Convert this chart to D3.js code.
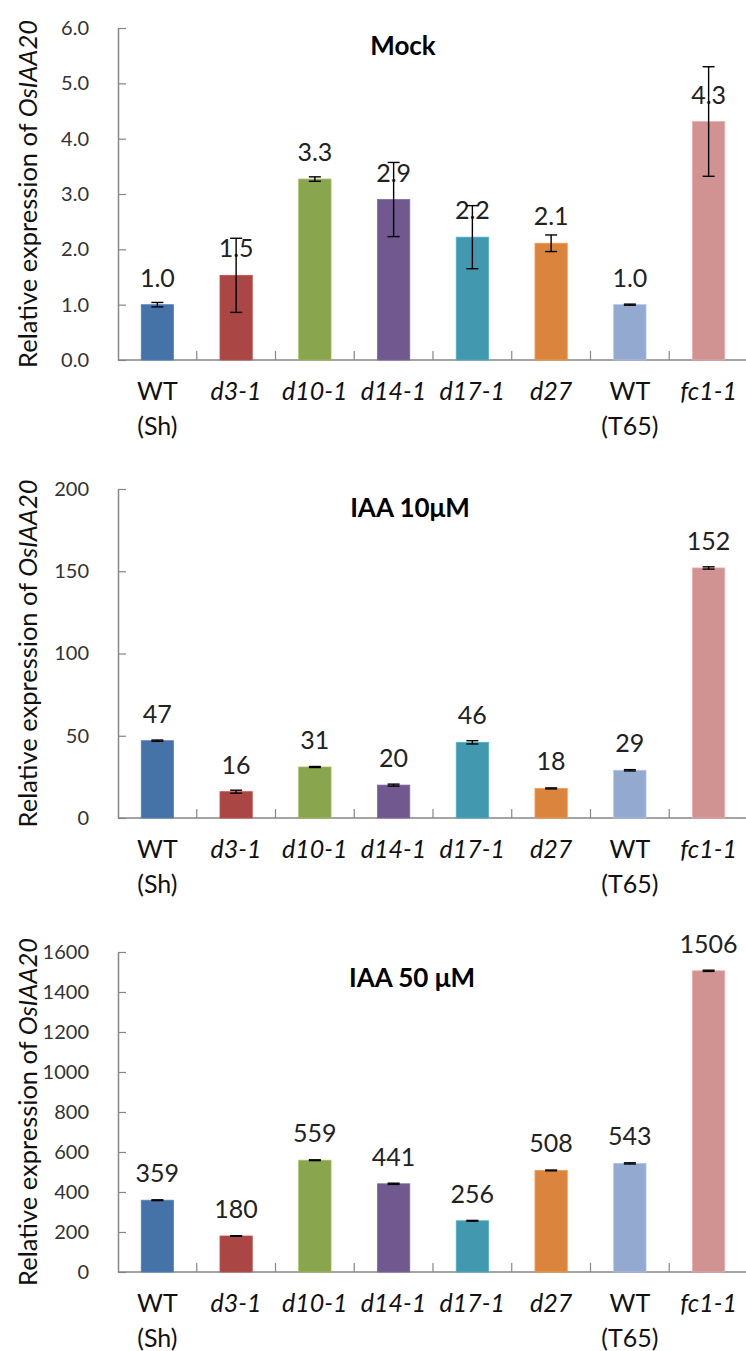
<!DOCTYPE html>
<html>
<head>
<meta charset="utf-8">
<script src="https://cdn.jsdelivr.net/npm/d3@7"></script>
<style>
  html, body { margin: 0; padding: 0; background: #fff; }
  svg { display: block; }
  text { font-family: Lato, "Open Sans", sans-serif; }
</style>
</head>
<body>
<script>
// ---------- DATA ----------
const categories = ["WT (Sh)", "d3-1", "d10-1", "d14-1", "d17-1", "d27", "WT (T65)", "fc1-1"];
const catLine1 = ["WT", "d3-1", "d10-1", "d14-1", "d17-1", "d27", "WT", "fc1-1"];
const catLine2 = ["(Sh)", "", "", "", "", "", "(T65)", ""];
const catItalic = [false, true, true, true, true, true, false, true];
const barColors = ["#4572A7", "#AA4643", "#89A54E", "#71588F", "#4198AF", "#DB843D", "#93A9CF", "#D19392"];

const mockValues = [1.0, 1.53, 3.27, 2.9, 2.22, 2.11, 1.0, 4.31];
const mockErrors = [0.04, 0.67, 0.04, 0.67, 0.57, 0.15, 0.01, 0.99];
const mockTicks = [0, 1, 2, 3, 4, 5, 6];

const iaa10Values = [47, 16, 31, 20, 46, 18, 29, 152];
const iaa10Errors = [0.4, 0.9, 0.3, 0.6, 1.0, 0.3, 0.4, 0.7];
const iaa10Ticks = [0, 50, 100, 150, 200];

const iaa50Values = [359, 180, 559, 441, 256, 508, 543, 1506];
const iaa50Errors = [2, 1.5, 2, 3, 2, 2, 3, 3];
const iaa50Ticks = [0, 200, 400, 600, 800, 1000, 1200, 1400, 1600];

const titles = ["Mock", "IAA 10μM", "IAA 50 μM"];

// ---------- LAYOUT ----------
const W = 746, H = 1351;
const svg = d3.select("body").append("svg").attr("width", W).attr("height", H);

const panels = [
  { values: mockValues, errors: mockErrors, ticks: mockTicks, fmt: d3.format(".1f"), max: 6,
    yBottom: 360, yTop: 28, title: titles[0], titleX: 403, titleY: 55 },
  { values: iaa10Values, errors: iaa10Errors, ticks: iaa10Ticks, fmt: d3.format("d"), max: 200,
    yBottom: 818, yTop: 489, title: titles[1], titleX: 410, titleY: 517 },
  { values: iaa50Values, errors: iaa50Errors, ticks: iaa50Ticks, fmt: d3.format("d"), max: 1600,
    yBottom: 1272, yTop: 952, title: titles[2], titleX: 412, titleY: 987 }
];

const axisX = 118, axisRight = 748;
const x = d3.scaleBand().domain(categories).range([axisX, axisRight]).padding(0);
const barW = x.bandwidth() * 0.41;
const axisColor = "#868686";

panels.forEach(p => {
  const g = svg.append("g");
  const y = d3.scaleLinear().domain([0, p.max]).range([p.yBottom, p.yTop]);

  // y axis
  const yAxis = d3.axisLeft(y).tickValues(p.ticks).tickFormat(p.fmt).tickSizeInner(-8).tickSizeOuter(0).tickPadding(29);
  const ya = g.append("g").attr("transform", `translate(${axisX},0)`).call(yAxis);
  ya.select(".domain").attr("stroke", axisColor).attr("stroke-width", 1.5);
  ya.selectAll(".tick line").attr("stroke", axisColor).attr("stroke-width", 1.2);
  ya.selectAll(".tick text").attr("font-size", 20).attr("fill", "#333").attr("font-family", "Lato, sans-serif");

  // x axis baseline
  g.append("line").attr("x1", axisX).attr("x2", axisRight).attr("y1", p.yBottom).attr("y2", p.yBottom)
    .attr("stroke", axisColor).attr("stroke-width", 1.5);
  // category separator ticks
  g.selectAll("line.ct").data(categories.slice(1)).join("line").attr("class", "ct")
    .attr("x1", d => x(d)).attr("x2", d => x(d))
    .attr("y1", p.yBottom).attr("y2", p.yBottom - 9)
    .attr("stroke", axisColor).attr("stroke-width", 1.2);

  // bars
  g.selectAll("rect.bar").data(p.values).join("rect").attr("class", "bar")
    .attr("x", (d, i) => x(categories[i]) + x.bandwidth() / 2 - barW / 2)
    .attr("width", barW)
    .attr("y", d => y(d))
    .attr("height", d => p.yBottom - y(d))
    .attr("fill", (d, i) => barColors[i])
    .attr("stroke", (d, i) => d3.color(barColors[i]).brighter(0.4))
    .attr("stroke-width", 0.8);

  // value labels
  g.selectAll("text.val").data(p.values).join("text").attr("class", "val")
    .attr("x", (d, i) => x(categories[i]) + x.bandwidth() / 2)
    .attr("y", d => y(d) - 18)
    .attr("text-anchor", "middle")
    .attr("font-size", 25)
    .attr("fill", "#222")
    .text(d => p.fmt(d));

  // error bars
  const eg = g.selectAll("g.err").data(p.values).join("g").attr("class", "err");
  eg.each(function(d, i) {
    const cx = x(categories[i]) + x.bandwidth() / 2;
    const e = p.errors[i];
    const s = d3.select(this);
    const yt = y(d + e), yb = y(d - e);
    s.append("line").attr("x1", cx).attr("x2", cx).attr("y1", yt).attr("y2", yb).attr("stroke", "#000").attr("stroke-width", 1.4);
    s.append("line").attr("x1", cx - 6).attr("x2", cx + 6).attr("y1", yt).attr("y2", yt).attr("stroke", "#000").attr("stroke-width", 1.4);
    s.append("line").attr("x1", cx - 6).attr("x2", cx + 6).attr("y1", yb).attr("y2", yb).attr("stroke", "#000").attr("stroke-width", 1.4);
  });

  // category labels
  categories.forEach((c, i) => {
    const cx = x(c) + x.bandwidth() / 2;
    g.append("text").attr("x", cx).attr("y", p.yBottom + 40)
      .attr("text-anchor", "middle").attr("font-size", 25).attr("fill", "#111")
      .attr("font-style", catItalic[i] ? "italic" : "normal")
      .text(catLine1[i]);
    if (catLine2[i]) {
      g.append("text").attr("x", cx).attr("y", p.yBottom + 75)
        .attr("text-anchor", "middle").attr("font-size", 25).attr("fill", "#111")
        .text(catLine2[i]);
    }
  });

  // title
  g.append("text").attr("x", p.titleX).attr("y", p.titleY).attr("text-anchor", "middle")
    .attr("font-size", 26).attr("font-weight", "bold").attr("fill", "#000").text(p.title);

  // y axis title
  const cy = (p.yTop + p.yBottom) / 2;
  const yt = g.append("text").attr("transform", `translate(37,${cy}) rotate(-90)`)
    .attr("text-anchor", "middle").attr("font-size", 25.5).attr("fill", "#111");
  yt.append("tspan").text("Relative expression of ");
  yt.append("tspan").attr("font-style", "italic").text("OsIAA20");
});
</script>
</body>
</html>
